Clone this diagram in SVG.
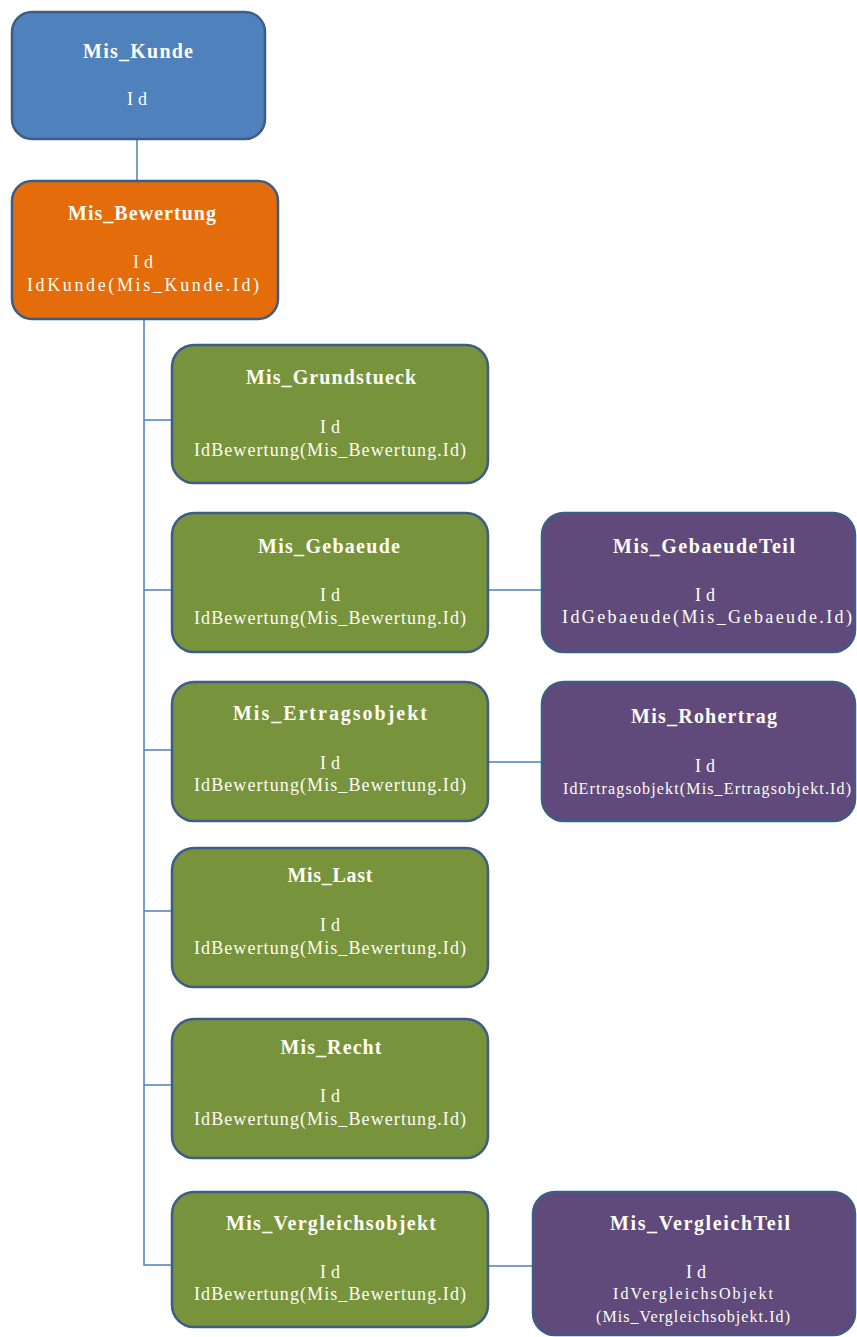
<svg xmlns="http://www.w3.org/2000/svg" width="857" height="1337" viewBox="0 0 857 1337">
<style>
.box{stroke:#3E5D86;stroke-width:2.5}
.blue{fill:#4F81BD}
.orange{fill:#E46C0A}
.green{fill:#77933C}
.purple{fill:#604A7B}
.t{font-weight:bold;font-size:20px}
.b{font-size:18px}
.s{font-size:16px}
.c{stroke:#4F7FBA;stroke-width:1.5;fill:none}
</style>
<rect width="857" height="1337" fill="#FFFFFF"/>
<g id="connectors">
<line class="c" x1="137" y1="139" x2="137" y2="181"/>
<polyline class="c" points="144,319 144,1265 172,1265"/>
<line class="c" x1="144" y1="420" x2="172" y2="420"/>
<line class="c" x1="144" y1="590" x2="172" y2="590"/>
<line class="c" x1="144" y1="750" x2="172" y2="750"/>
<line class="c" x1="144" y1="911" x2="172" y2="911"/>
<line class="c" x1="144" y1="1085" x2="172" y2="1085"/>
<line class="c" x1="488" y1="590" x2="542" y2="590"/>
<line class="c" x1="488" y1="762" x2="542" y2="762"/>
<line class="c" x1="488" y1="1266" x2="533" y2="1266"/>
</g>
<g font-family="Liberation Serif, Times New Roman, serif" fill="#FFFDF5" text-anchor="middle">
<g id="Mis_Kunde">
<rect class="box blue" x="12" y="12" width="253" height="127" rx="20"/>
<text class="t" x="138" y="58" textLength="110" lengthAdjust="spacing">Mis_Kunde</text>
<text class="b" x="137" y="105" textLength="20" lengthAdjust="spacing">Id</text>
</g>
<g id="Mis_Bewertung">
<rect class="box orange" x="12" y="181" width="266" height="138" rx="20"/>
<text class="t" x="142" y="220" textLength="148" lengthAdjust="spacing">Mis_Bewertung</text>
<text class="b" x="143" y="268" textLength="20" lengthAdjust="spacing">Id</text>
<text class="b" x="143" y="291" textLength="232" lengthAdjust="spacing">IdKunde(Mis_Kunde.Id)</text>
</g>
<g id="Mis_Grundstueck">
<rect class="box green" x="172" y="345" width="316" height="138" rx="22"/>
<text class="t" x="331" y="384" textLength="170" lengthAdjust="spacing">Mis_Grundstueck</text>
<text class="b" x="330" y="433" textLength="20" lengthAdjust="spacing">Id</text>
<text class="b" x="330" y="456" textLength="272" lengthAdjust="spacing">IdBewertung(Mis_Bewertung.Id)</text>
</g>
<g id="Mis_Gebaeude">
<rect class="box green" x="172" y="513" width="316" height="139" rx="22"/>
<text class="t" x="329" y="553" textLength="142" lengthAdjust="spacing">Mis_Gebaeude</text>
<text class="b" x="330" y="601" textLength="20" lengthAdjust="spacing">Id</text>
<text class="b" x="330" y="624" textLength="272" lengthAdjust="spacing">IdBewertung(Mis_Bewertung.Id)</text>
</g>
<g id="Mis_Ertragsobjekt">
<rect class="box green" x="172" y="682" width="316" height="139" rx="22"/>
<text class="t" x="330" y="720" textLength="194" lengthAdjust="spacing">Mis_Ertragsobjekt</text>
<text class="b" x="330" y="769" textLength="20" lengthAdjust="spacing">Id</text>
<text class="b" x="330" y="791" textLength="272" lengthAdjust="spacing">IdBewertung(Mis_Bewertung.Id)</text>
</g>
<g id="Mis_Last">
<rect class="box green" x="172" y="848" width="316" height="139" rx="22"/>
<text class="t" x="330" y="882" textLength="85" lengthAdjust="spacing">Mis_Last</text>
<text class="b" x="330" y="931" textLength="20" lengthAdjust="spacing">Id</text>
<text class="b" x="330" y="954" textLength="272" lengthAdjust="spacing">IdBewertung(Mis_Bewertung.Id)</text>
</g>
<g id="Mis_Recht">
<rect class="box green" x="172" y="1019" width="316" height="139" rx="22"/>
<text class="t" x="331" y="1054" textLength="101" lengthAdjust="spacing">Mis_Recht</text>
<text class="b" x="330" y="1102" textLength="20" lengthAdjust="spacing">Id</text>
<text class="b" x="330" y="1125" textLength="272" lengthAdjust="spacing">IdBewertung(Mis_Bewertung.Id)</text>
</g>
<g id="Mis_Vergleichsobjekt">
<rect class="box green" x="172" y="1192" width="316" height="135" rx="22"/>
<text class="t" x="331" y="1230" textLength="210" lengthAdjust="spacing">Mis_Vergleichsobjekt</text>
<text class="b" x="330" y="1278" textLength="20" lengthAdjust="spacing">Id</text>
<text class="b" x="330" y="1300" textLength="272" lengthAdjust="spacing">IdBewertung(Mis_Bewertung.Id)</text>
</g>
<g id="Mis_GebaeudeTeil">
<rect class="box purple" x="542" y="513" width="313" height="139" rx="22"/>
<text class="t" x="704" y="553" textLength="182" lengthAdjust="spacing">Mis_GebaeudeTeil</text>
<text class="b" x="705" y="601" textLength="20" lengthAdjust="spacing">Id</text>
<text class="b" x="707" y="623" textLength="290" lengthAdjust="spacing">IdGebaeude(Mis_Gebaeude.Id)</text>
</g>
<g id="Mis_Rohertrag">
<rect class="box purple" x="542" y="682" width="313" height="139" rx="22"/>
<text class="t" x="704" y="723" textLength="146" lengthAdjust="spacing">Mis_Rohertrag</text>
<text class="b" x="705" y="772" textLength="20" lengthAdjust="spacing">Id</text>
<text class="s" x="707" y="794" textLength="288" lengthAdjust="spacing">IdErtragsobjekt(Mis_Ertragsobjekt.Id)</text>
</g>
<g id="Mis_VergleichTeil">
<rect class="box purple" x="533" y="1192" width="322" height="143" rx="22"/>
<text class="t" x="700" y="1230" textLength="180" lengthAdjust="spacing">Mis_VergleichTeil</text>
<text class="b" x="696" y="1278" textLength="20" lengthAdjust="spacing">Id</text>
<text class="s" x="693" y="1299" textLength="160" lengthAdjust="spacing">IdVergleichsObjekt</text>
<text class="s" x="693" y="1322" textLength="194" lengthAdjust="spacing">(Mis_Vergleichsobjekt.Id)</text>
</g>
</g>
</svg>
